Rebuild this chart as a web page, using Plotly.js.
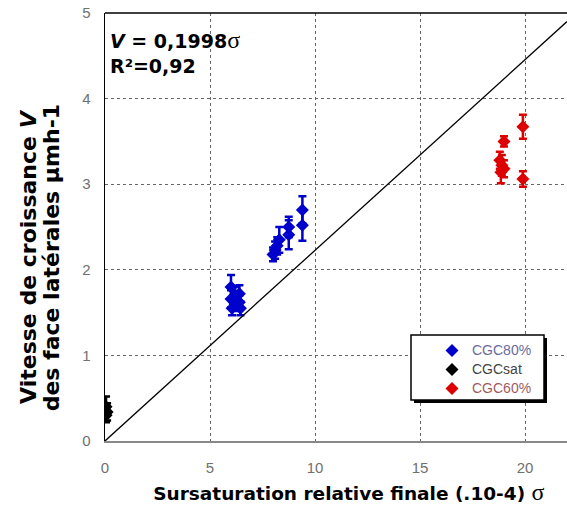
<!DOCTYPE html>
<html><head><meta charset="utf-8">
<script src="https://cdn.plot.ly/plotly-3.0.1.min.js"></script>
<style>html,body{margin:0;padding:0;background:#fff}#c{width:567px;height:511px}</style>
</head><body><div id="c"></div>
<script>
// CGC80% (blue)
const x80 = [6.0, 6.0, 6.05, 6.2, 6.2, 6.4, 6.4, 6.45, 8.0, 8.1, 8.2, 8.3, 8.75, 8.75, 9.4, 9.4];
const y80 = [1.80, 1.66, 1.55, 1.70, 1.60, 1.72, 1.62, 1.55, 2.18, 2.23, 2.28, 2.35, 2.50, 2.41, 2.70, 2.52];
const e80 = [0.14, 0.10, 0.08, 0.10, 0.08, 0.10, 0.08, 0.08, 0.08, 0.10, 0.10, 0.15, 0.12, 0.17, 0.16, 0.18];
// CGCsat (black)
const xsat = [0.05, 0.10, 0.05];
const ysat = [0.40, 0.34, 0.30];
const esat = [0.12, 0.10, 0.08];
// CGC60% (red)
const x60 = [19.9, 19.9, 19.0, 18.8, 18.9, 19.0, 18.85];
const y60 = [3.67, 3.06, 3.50, 3.28, 3.22, 3.18, 3.14];
const e60 = [0.14, 0.09, 0.06, 0.10, 0.12, 0.10, 0.13];
// fitted line endpoints
const lineX = [0, 22];
const lineY = [0, 4.9];
// tick labels
const xTicks = [0, 5, 10, 15, 20];
const yTicks = [0, 1, 2, 3, 4, 5];

const markerBase = {symbol: 'diamond', size: 10};
const errBase = {type: 'data', visible: true, thickness: 2.5, width: 4};
const boldFont = '"DejaVu Sans", "Liberation Sans", Arial, sans-serif';
const nb = n => '\u00A0'.repeat(n);

const traces = [
  {x: x80, y: y80, mode: 'markers', type: 'scatter',
   name: "<span style='color:#6a6a9e;font-size:14px'>CGC80%</span>",
   marker: Object.assign({color: '#0000cc'}, markerBase),
   error_y: Object.assign({array: e80, color: '#0000cc'}, errBase)},
  {x: xsat, y: ysat, mode: 'markers', type: 'scatter',
   name: "<span style='color:#444444;font-size:14px'>CGCsat</span>",
   marker: Object.assign({color: '#000000'}, markerBase),
   error_y: Object.assign({array: esat, color: '#000000'}, errBase)},
  {x: x60, y: y60, mode: 'markers', type: 'scatter',
   name: "<span style='color:#a05c5c;font-size:14px'>CGC60%</span>",
   marker: Object.assign({color: '#dd0000'}, markerBase),
   error_y: Object.assign({array: e60, color: '#dd0000'}, errBase)},
  {x: lineX, y: lineY, mode: 'lines', type: 'scatter', showlegend: false,
   line: {color: '#000000', width: 1.3}, hoverinfo: 'skip'}
];

// pixel -> paper coords (plot area: x 105..567, y 13..441)
const px = p => (p - 105) / 462;
const py = p => (441 - p) / 428;

const layout = {
  width: 567, height: 511,
  margin: {l: 105, r: 0, t: 13, b: 70},
  paper_bgcolor: '#ffffff', plot_bgcolor: '#ffffff',
  font: {family: '"Liberation Sans", Arial, sans-serif', color: '#555555', size: 15},
  showlegend: true,
  legend: {x: px(432), y: py(336), xanchor: 'left', yanchor: 'top',
           bgcolor: 'rgba(0,0,0,0)', borderwidth: 0,
           font: {size: 12, color: '#555555', family: '"Liberation Sans", Arial, sans-serif'},
           tracegroupgap: 0},
  xaxis: {range: [0, 22], tickvals: xTicks, ticktext: xTicks.map(String),
          showgrid: true, gridcolor: '#666666', griddash: 'dot', gridwidth: 1,
          zeroline: false, showline: true, linecolor: '#888888', linewidth: 1.5,
          ticks: '', ticklabelstandoff: 12,
          tickfont: {size: 15, color: '#707070'},
          title: {text: '<span style="font-size:18.5px">' + nb(4) + 'Sursaturation relative finale (.10-4) </span><span style="font-weight:normal;font-size:24px;font-family:Liberation Serif">σ</span>',
                  font: {size: 18.5, color: '#000000', family: boldFont, weight: 'bold'},
                  standoff: 12}},
  yaxis: {range: [0, 5], tickvals: yTicks, ticktext: yTicks.map(String),
          showgrid: true, gridcolor: '#666666', griddash: 'dot', gridwidth: 1,
          zeroline: false, showline: true, linecolor: '#000000', linewidth: 1.5,
          mirror: false, ticks: '', ticklabelstandoff: 10,
          tickfont: {size: 15, color: '#707070'},
          title: {text: '<span style="font-size:22px">Vitesse de croissance <i>V</i>' + nb(8) + '</span><br>' +
                        '<span style="font-size:22px">des face latérales µmh-1' + nb(8) + '</span>',
                  font: {size: 17.5, color: '#000000', family: boldFont, weight: 'bold'},
                  standoff: 18}},
  shapes: [
    {type: 'line', xref: 'paper', yref: 'paper', x0: 0, x1: 1, y0: 1, y1: 1,
     line: {color: '#000000', width: 1.5}},
    // legend shadow
    {type: 'rect', xref: 'paper', yref: 'paper', layer: 'above',
     x0: px(414), x1: px(547), y0: py(403), y1: py(338),
     fillcolor: '#000000', line: {width: 0}},
    // legend box
    {type: 'rect', xref: 'paper', yref: 'paper', layer: 'above',
     x0: px(411), x1: px(544), y0: py(400), y1: py(335),
     fillcolor: '#ffffff', line: {color: '#000000', width: 1.5}}
  ],
  annotations: [
    {xref: 'paper', yref: 'paper', x: px(108), y: py(25), xanchor: 'left', yanchor: 'top',
     showarrow: false, align: 'left',
     text: '<b><i>V</i> = 0,1998</b><span style="font-size:24px;font-family:Liberation Serif">σ</span><br><b>R²=0,92</b>',
     font: {size: 19, color: '#000000', family: boldFont}}
  ]
};

Plotly.newPlot('c', traces, layout, {displayModeBar: false, staticPlot: true});
</script>
</body></html>
